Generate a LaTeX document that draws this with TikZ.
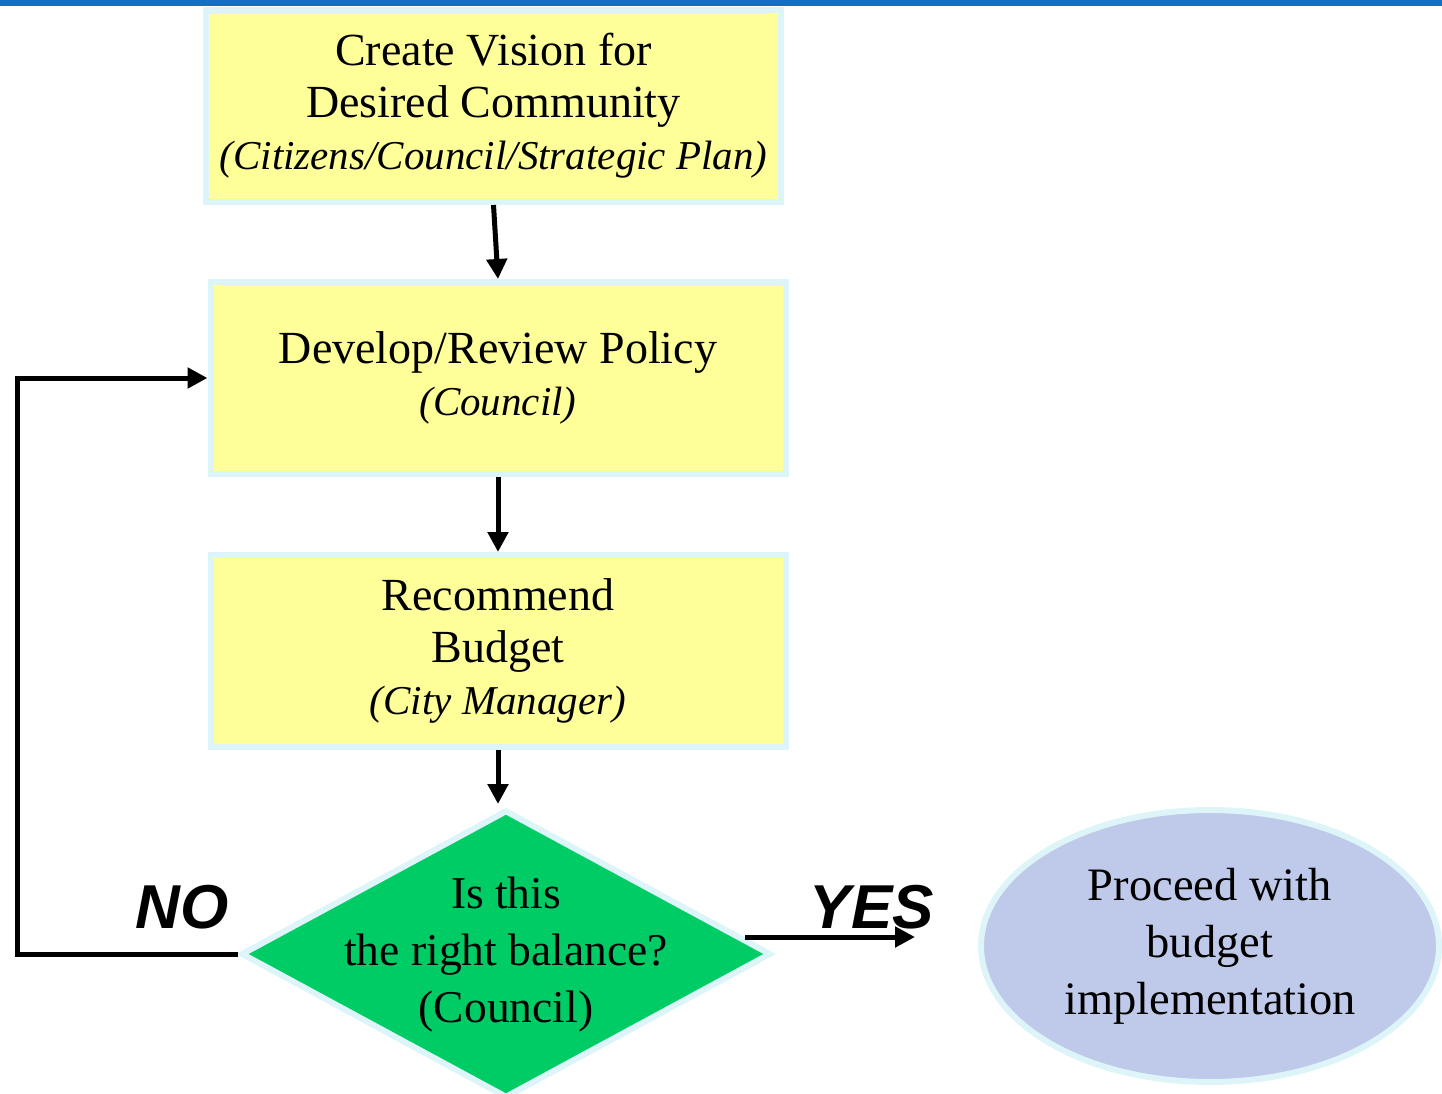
\documentclass[tikz,border=0pt]{standalone}
\usepackage{fontspec}
\setmainfont{Liberation Serif}
\newfontfamily\lblfont{Liberation Sans}
\usetikzlibrary{shapes.geometric,arrows.meta}
\definecolor{boxyellow}{HTML}{FFFF99}
\definecolor{edgecyan}{HTML}{DDF4F8}
\definecolor{decgreen}{HTML}{00CC66}
\definecolor{ovalblue}{HTML}{BFCAEB}
\definecolor{barblue}{HTML}{1070C8}
\newcommand{\subtxt}[1]{{\fontsize{41}{52}\selectfont\itshape #1}}
\tikzset{
  stepbox/.style={rectangle, draw=edgecyan, line width=6pt, fill=boxyellow,
    minimum width=575pt, minimum height=192pt, inner sep=0pt, align=center,
    font=\fontsize{46}{52}\selectfont},
  decbox/.style={diamond, aspect=1.84, draw=edgecyan, line width=6pt, fill=decgreen,
    minimum width=530pt, minimum height=288pt, inner sep=0pt},
  dectext/.style={align=center, inner sep=0pt, font=\fontsize{45.5}{57}\selectfont},
  endbox/.style={ellipse, draw=edgecyan, line width=6pt, fill=ovalblue,
    minimum width=458pt, minimum height=272pt, inner sep=0pt, align=center,
    font=\fontsize{46.5}{57}\selectfont},
  flow/.style={line width=5pt, -{Triangle[length=20pt,width=20pt]}},
  yn/.style={font=\lblfont\bfseries\itshape\fontsize{62}{62}\selectfont}
}
\begin{document}
\begin{tikzpicture}[x=1pt,y=-1pt]
\useasboundingbox (0,0) rectangle (1442,1094);
\fill[barblue] (0,0) rectangle (1442,6.5);
\node[stepbox] (b1) at (493.5,106) {Create Vision for\\Desired Community\\\subtxt{(Citizens/Council/Strategic Plan)}};
\node[stepbox] (b2) at (498,378) {Develop/Review Policy\\\subtxt{(Council)}};
\node[stepbox] (b3) at (498,651) {Recommend\\Budget\\\subtxt{(City Manager)}};
\node[decbox] (d) at (506,954) {};
\node[dectext] (dt) at (506,955) {Is this\\the right balance?\\(Council)};
\node[endbox] (e) at (1210,946) {Proceed with\\budget\\implementation};
\coordinate (lp) at (17,954);
\coordinate (ys) at (745,937);
\coordinate (ye) at (915,937);
\draw[flow] (b1.south) -- (b2.north);
\draw[flow] (b2.south) -- (b3.north);
\draw[flow, shorten >=3pt] (b3.south) -- (b3.south |- d.north);
\draw[flow] (d.west) -- (d.west -| lp) |- (b2.west);
\draw[flow] (ys) -- (ye);
\node[yn] (no) at (182,907) {NO};
\node[yn] (yes) at (872,907) {YES};
\end{tikzpicture}
\end{document}
